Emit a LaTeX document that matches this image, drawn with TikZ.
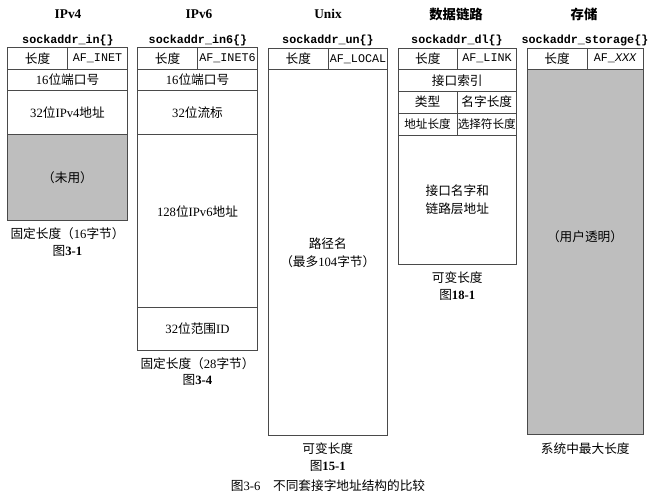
\documentclass[tikz,border=0pt]{standalone}
\usepackage{fontspec}
\setmainfont{Liberation Serif}
\setmonofont{Liberation Mono}
\newfontfamily\cjk{Noto Sans CJK SC}
\usetikzlibrary{positioning}
\definecolor{edgegray}{HTML}{4A4A4A}
\definecolor{unusedgray}{HTML}{BEBEBE}
\newcommand{\zh}[1]{{\cjk #1}}
\newcommand{\af}[1]{\texttt{\fontsize{8.8}{10}\selectfont #1}}
\tikzset{
  fieldbox/.style={
    rectangle, draw=edgegray, line width=0.6pt,
    inner sep=0pt, align=center
  },
  shaded/.style={fill=unusedgray},
  tight/.style={font=\fontsize{8.7}{10}\selectfont},
  titletext/.style={font=\bfseries\fontsize{10}{12}\selectfont},
  structtext/.style={font=\ttfamily\bfseries\fontsize{8.8}{10}\selectfont},
  notetext/.style={align=center, inner sep=0pt},
}
% one field of a structure: name, x1, y1, x2, y2 (pixels), text
\newcommand{\sockfield}[7][]{%
  \node[fieldbox, #1, minimum width={(#5-#3)*0.75pt}, minimum height={(#6-#4)*0.75pt}]
    (#2) at ({(#3+#5)/2},{(#4+#6)/2}) {#7};}

\begin{document}
\begin{tikzpicture}[x=0.75pt, y=-0.75pt, font=\fontsize{9.5}{11.5}\selectfont]
  \useasboundingbox (0,0) rectangle (653,497);

  % titles
  \foreach \nm/\x/\t in {tv4/68/IPv4, tv6/199/IPv6, tun/328/Unix, tdl/456/\zh{数据链路}, tst/584/\zh{存储}}
    \node[titletext] (\nm) at (\x,14) {\t};
  \node[structtext] (sin)  at (68,40)  {sockaddr\_in\{\}};
  \node[structtext] (sin6) at (198,40) {sockaddr\_in6\{\}};
  \node[structtext] (sun)  at (328,40) {sockaddr\_un\{\}};
  \node[structtext] (sdl)  at (457,40) {sockaddr\_dl\{\}};
  \node[structtext] (sst)  at (585,40) {sockaddr\_storage\{\}};

  % IPv4
  \sockfield{v4len}{7.5}{47.5}{67.5}{69.5}{\zh{长度}}
  \sockfield{v4fam}{67.5}{47.5}{127.5}{69.5}{\af{AF\_INET}}
  \sockfield{v4port}{7.5}{69.5}{127.5}{90.5}{16\zh{位端口号}}
  \sockfield{v4addr}{7.5}{90.5}{127.5}{134.5}{32\zh{位}IPv4\zh{地址}}
  \sockfield[shaded]{v4zero}{7.5}{134.5}{127.5}{220.5}{\zh{（未用）}}
  \node[notetext, below=5pt of v4zero] (v4note) {\zh{固定长度（}16\zh{字节）}\\[1pt]\zh{图}\textbf{3-1}};

  % IPv6
  \sockfield{v6len}{137.5}{47.5}{197.5}{69.5}{\zh{长度}}
  \sockfield{v6fam}{197.5}{47.5}{257.5}{69.5}{\af{AF\_INET6}}
  \sockfield{v6port}{137.5}{69.5}{257.5}{90.5}{16\zh{位端口号}}
  \sockfield{v6flow}{137.5}{90.5}{257.5}{134.5}{32\zh{位流标}}
  \sockfield{v6addr}{137.5}{134.5}{257.5}{307.5}{}
  \node[notetext] (v6addrtxt) at (197.5,212) {128\zh{位}IPv6\zh{地址}};
  \sockfield{v6scope}{137.5}{307.5}{257.5}{350}{32\zh{位范围}ID}
  \node[notetext, below=5pt of v6scope] (v6note) {\zh{固定长度（}28\zh{字节）}\\[1pt]\zh{图}\textbf{3-4}};

  % Unix
  \sockfield{unlen}{268}{48}{328.5}{69.5}{\zh{长度}}
  \sockfield{unfam}{328.5}{48}{387.5}{69.5}{\af{AF\_LOCAL}}
  \sockfield{unpath}{268}{69.5}{387.5}{435.5}{\zh{路径名}\\[2pt]\zh{（最多}104\zh{字节）}}
  \node[notetext, below=5pt of unpath] (unnote) {\zh{可变长度}\\[1pt]\zh{图}\textbf{15-1}};

  % data link
  \sockfield{dllen}{398}{48}{457.5}{69.5}{\zh{长度}}
  \sockfield{dlfam}{457.5}{48}{516.5}{69.5}{\af{AF\_LINK}}
  \sockfield{dlidx}{398}{69.5}{516.5}{91}{\zh{接口索引}}
  \sockfield{dltype}{398}{91}{457}{113}{\zh{类型}}
  \sockfield{dlnlen}{457}{91}{516.5}{113}{\zh{名字长度}}
  \sockfield[tight]{dlalen}{398}{113}{457}{135}{\zh{地址长度}}
  \sockfield[tight]{dlslen}{457}{113}{516.5}{135}{\zh{选择符长度}}
  \sockfield{dldata}{398}{135}{516.5}{264.5}{\zh{接口名字和}\\[2pt]\zh{链路层地址}}
  \node[notetext, below=5pt of dldata] (dlnote) {\zh{可变长度}\\[1pt]\zh{图}\textbf{18-1}};

  % storage
  \sockfield{stlen}{527}{48}{587}{69.5}{\zh{长度}}
  \sockfield{stfam}{587}{48}{643.5}{69.5}{\af{AF\_\textit{XXX}}}
  \sockfield[shaded]{stpad}{527}{69.5}{643.5}{434.5}{}
  \node[notetext] (stpadtxt) at (585,237) {\zh{（用户透明）}};
  \node[notetext, below=6pt of stpad] (stnote) {\zh{系统中最大长度}};

  % caption
  \node[notetext] (caption) at (328,486) {\zh{图}3-6\quad\zh{不同套接字地址结构的比较}};
\end{tikzpicture}
\end{document}
